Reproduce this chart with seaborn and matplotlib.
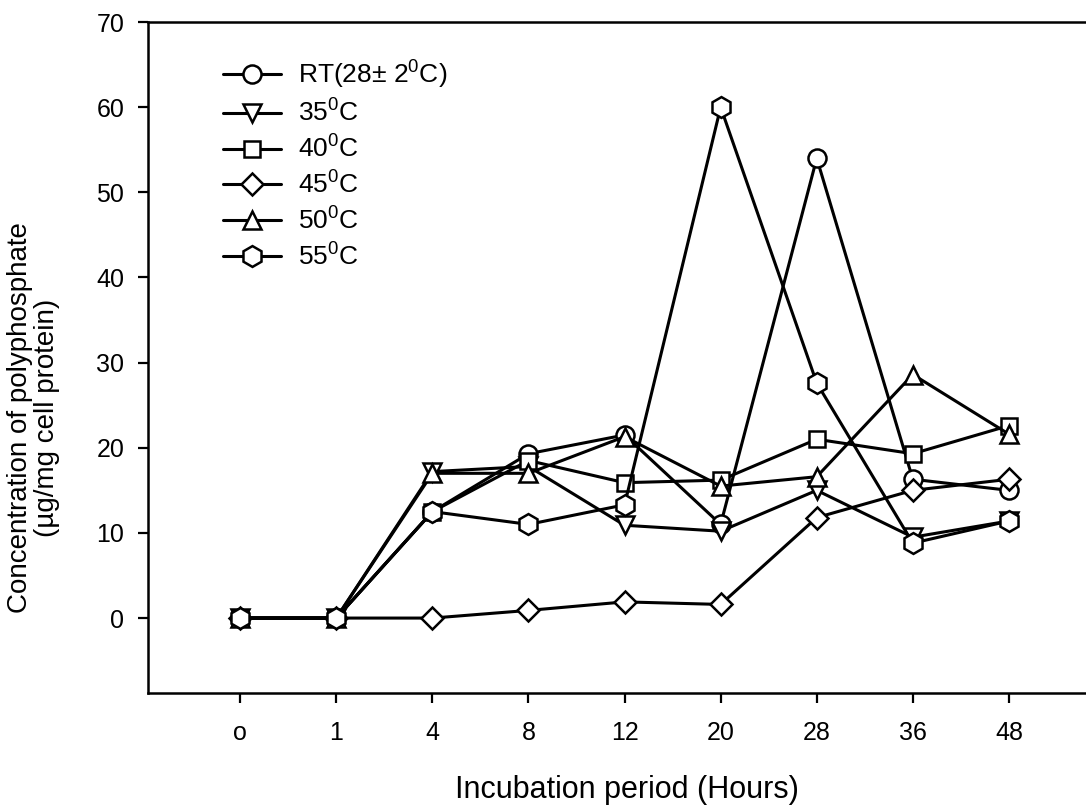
import numpy as np
import pandas as pd
import matplotlib
matplotlib.use("Agg")
import matplotlib.pyplot as plt
import seaborn as sns

hours = ["o", "1", "4", "8", "12", "20", "28", "36", "48"]
series_names = ["RT(28± 2$^{0}$C)", "35$^{0}$C", "40$^{0}$C", "45$^{0}$C", "50$^{0}$C", "55$^{0}$C"]
rt   = [0, 0, 12.5, 19.3, 21.5, 11.0, 54.0, 16.3, 15.0]
t35  = [0, 0, 17.2, 17.8, 10.9, 10.2, 15.0, 9.5, 11.4]
t40  = [0, 0, 12.5, 18.5, 15.9, 16.2, 21.0, 19.3, 22.6]
t45  = [0, 0, 0.0, 0.9, 1.9, 1.6, 11.8, 15.0, 16.3]
t50  = [0, 0, 17.0, 17.0, 21.3, 15.5, 16.6, 28.6, 21.6]
t55  = [0, 0, 12.5, 11.0, 13.3, 60.0, 27.6, 8.8, 11.4]
all_values = [rt, t35, t40, t45, t50, t55]
marker_list = ["o", "v", "s", "D", "^", "h"]

rows = []
for name, vals in zip(series_names, all_values):
    for h, v in zip(hours, vals):
        rows.append({"Hours": h, "Value": v, "Series": name})
df = pd.DataFrame(rows)

sns.set_style("ticks")
plt.rcParams["font.family"] = ["Liberation Sans", "DejaVu Sans"]
plt.rcParams["mathtext.fontset"] = "custom"
plt.rcParams["mathtext.rm"] = "Liberation Sans"
plt.rcParams["mathtext.it"] = "Liberation Sans"
plt.rcParams["text.color"] = "black"
plt.rcParams["axes.labelcolor"] = "black"
plt.rcParams["xtick.color"] = "black"
plt.rcParams["ytick.color"] = "black"

fig = plt.figure(figsize=(10.86, 8.09), dpi=100)
ax = fig.add_axes([148 / 1086, 1 - 693 / 809, (1105 - 148) / 1086, (693 - 22) / 809])

sns.lineplot(data=df, x="Hours", y="Value", hue="Series", style="Series",
             hue_order=series_names, style_order=series_names,
             palette=["black"] * 6, markers=marker_list, dashes=False,
             linewidth=2.2, markersize=13, markerfacecolor="white",
             markeredgecolor="black", markeredgewidth=1.8, sort=False,
             legend=False, ax=ax)

lines = ax.get_lines()[:6]
size_map = {"o": 13, "v": 12.5, "s": 12, "D": 11, "^": 12.5, "h": 15}
for ln, mk in zip(lines, marker_list):
    ln.set_markersize(size_map[mk])

ax.set_xlim(-0.96, 9.0)
ax.set_ylim(-8.8, 70)
ax.set_yticks(np.arange(0, 71, 10))
ax.set_xticks(range(len(hours)))
ax.set_xticklabels(hours)
ax.tick_params(axis="both", labelsize=18, width=1.6, length=7, color="black", labelcolor="black")
ax.tick_params(axis="x", pad=13)
ax.tick_params(axis="y", pad=10)
for s in ["left", "bottom", "top", "right"]:
    ax.spines[s].set_linewidth(1.8)
    ax.spines[s].set_color("black")

ax.set_xlabel("Incubation period (Hours)", fontsize=22, color="black")
ax.set_ylabel("Concentration of polyphosphate\n(µg/mg cell protein)", fontsize=20,
              linespacing=1.05, color="black")
ax.xaxis.set_label_coords(0.5, -0.122)
ax.yaxis.set_label_coords(-0.092, 0.41)

leg = ax.legend(handles=lines, labels=series_names, loc="upper left",
                bbox_to_anchor=(0.067, 0.961), frameon=False, fontsize=19,
                handlelength=2.2, labelspacing=0.33, handletextpad=0.64,
                borderaxespad=0, labelcolor="black")

fig.savefig("out.png", dpi=100)
